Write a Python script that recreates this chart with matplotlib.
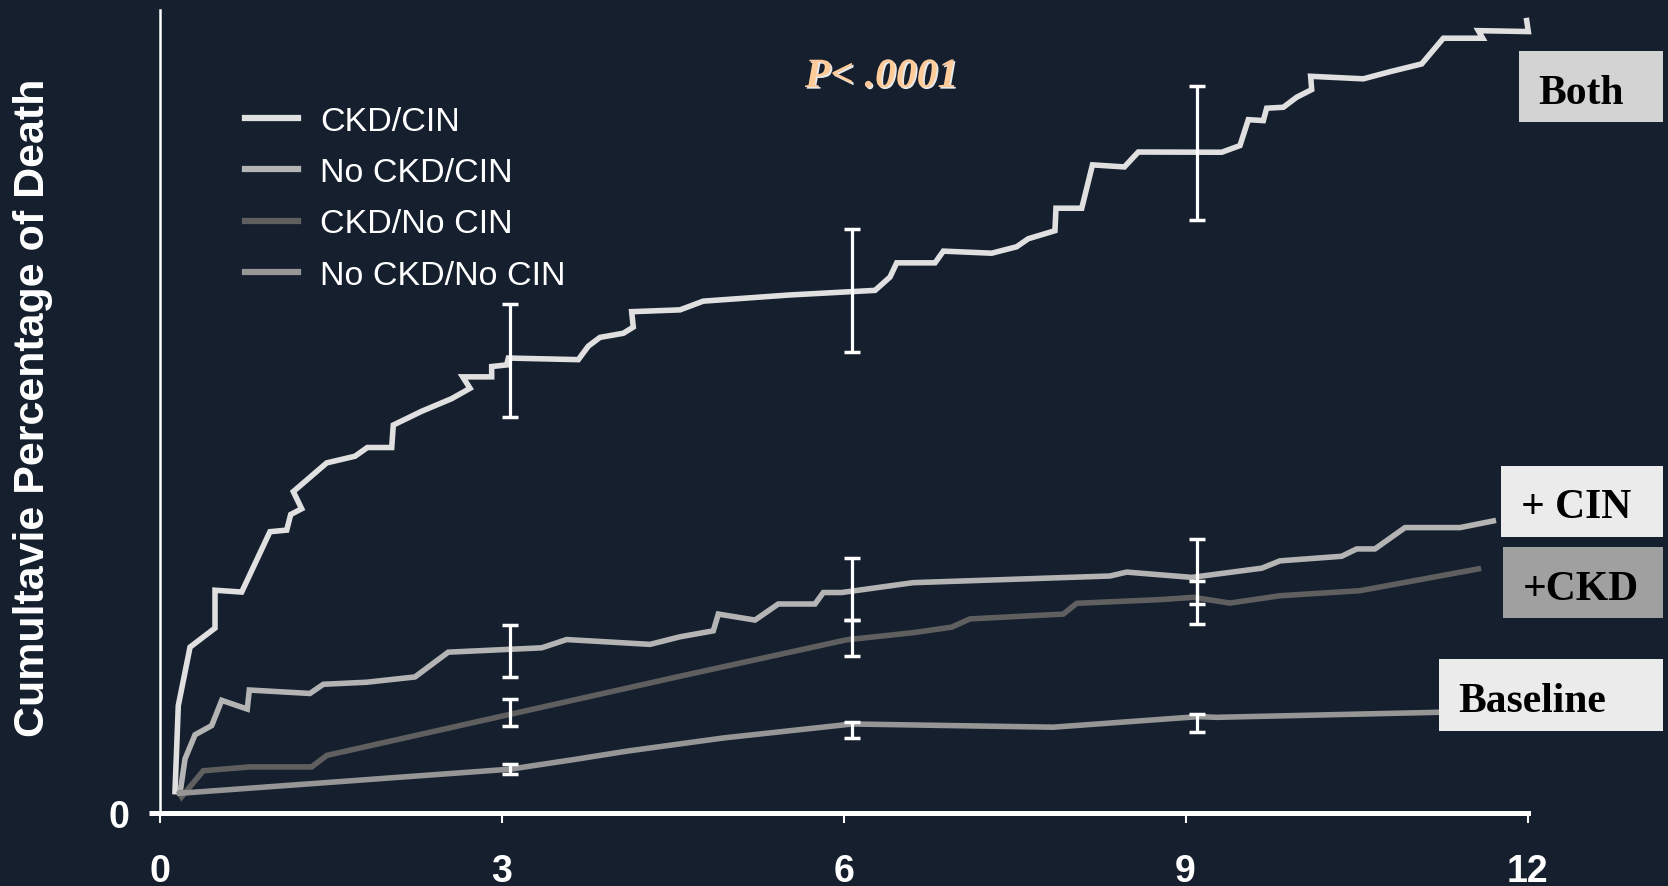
import matplotlib
matplotlib.use('Agg')
import matplotlib.pyplot as plt
import matplotlib.patheffects as pe
from matplotlib.patches import Rectangle

# months since procedure / cumulative % of death
months_ckd_cin = [0.135, 0.164, 0.267, 0.486, 0.486, 0.720, 0.968, 1.115, 1.150, 1.246,
                  1.173, 1.466, 1.714, 1.822, 2.036, 2.050, 2.299, 2.562, 2.723, 2.659,
                  2.913, 2.913, 3.045, 3.059, 3.673, 3.761, 3.863, 4.068, 4.155, 4.141,
                  4.565, 4.769, 5.530, 6.276, 6.407, 6.466, 6.802, 6.875, 7.299, 7.518,
                  7.620, 7.854, 7.863, 8.089, 8.183, 8.463, 8.585, 9.317, 9.477, 9.550,
                  9.682, 9.711, 9.857, 9.975, 10.106, 10.097, 10.559, 10.793, 11.071, 11.261,
                  11.606, 11.568, 12.006, 11.992]
pct_ckd_cin = [0.93, 4.68, 7.23, 8.06, 9.71, 9.63, 12.26, 12.33, 13.01, 13.26,
               14.01, 15.26, 15.55, 15.93, 15.93, 16.91, 17.51, 18.06, 18.51, 19.01,
               19.01, 19.46, 19.53, 19.83, 19.76, 20.35, 20.73, 20.91, 21.18, 21.85,
               21.93, 22.31, 22.58, 22.78, 23.36, 23.98, 23.98, 24.49, 24.40, 24.68,
               25.03, 25.38, 26.36, 26.36, 28.25, 28.16, 28.81, 28.80, 29.09, 30.22,
               30.18, 30.72, 30.76, 31.20, 31.53, 32.11, 32.00, 32.31, 32.65, 33.77,
               33.77, 34.10, 34.06, 34.54]

months_nockd_cin = [0.179, 0.223, 0.311, 0.457, 0.545, 0.769, 0.787, 1.319, 1.436, 1.817,
                    2.240, 2.532, 3.352, 3.571, 4.302, 4.565, 4.857, 4.901, 5.223, 5.427,
                    5.749, 5.822, 5.983, 6.611, 8.337, 8.483, 9.054, 9.668, 9.828, 10.369,
                    10.501, 10.661, 10.925, 11.407, 11.699]
pct_nockd_cin = [0.86, 2.36, 3.41, 3.81, 4.91, 4.53, 5.36, 5.21, 5.61, 5.70,
                 5.93, 7.01, 7.20, 7.56, 7.35, 7.68, 7.94, 8.67, 8.41, 9.11,
                 9.11, 9.61, 9.61, 10.04, 10.33, 10.50, 10.27, 10.67, 10.99, 11.19,
                 11.51, 11.51, 12.44, 12.44, 12.73]

months_ckd_nocin = [0.179, 0.194, 0.383, 0.793, 1.334, 1.466, 4.565, 6.027, 6.611, 6.948,
                    7.109, 7.927, 8.045, 8.775, 9.068, 9.389, 9.828, 10.530, 11.568]
pct_ckd_nocin = [0.86, 0.71, 1.84, 2.01, 2.01, 2.51, 5.96, 7.55, 7.86, 8.10,
                 8.46, 8.67, 9.14, 9.30, 9.40, 9.15, 9.47, 9.69, 10.64]

months_none = [0.179, 3.074, 3.635, 4.105, 4.945, 6.074, 7.837, 9.110, 9.274, 11.217]
pct_none = [0.86, 1.91, 2.33, 2.70, 3.27, 3.88, 3.74, 4.20, 4.17, 4.39]

# confidence intervals at 3, 6, 9 months (low / high)
err_months = [3.07, 6.07, 9.10]
ci_ckd_cin_lo = [17.28, 20.10, 25.85]
ci_ckd_cin_hi = [22.20, 25.46, 31.70]
ci_nockd_cin_lo = [5.91, 8.41, 9.11]
ci_nockd_cin_hi = [8.21, 11.10, 11.94]
ci_ckd_nocin_lo = [3.81, 6.85, 8.24]
ci_ckd_nocin_hi = [4.98, 8.41, 10.13]
ci_none_lo = [1.68, 3.26, 3.52]
ci_none_hi = [2.14, 3.95, 4.32]

labels = ['CKD/CIN', 'No CKD/CIN', 'CKD/No CIN', 'No CKD/No CIN']
colors = ['#e0e0e0', '#b4b4b4', '#5f5f5f', '#969696']
xticks = [0, 3, 6, 9, 12]

bg = '#151f2e'
W, H = 1668, 887

fig = plt.figure(figsize=(W / 100, H / 100), dpi=100, facecolor=bg)
ax = fig.add_axes([159.6 / W, 1 - 814 / H, (1527.6 - 159.6) / W, (814 - 11) / H])
ax.set_facecolor(bg)

series = [(months_ckd_cin, pct_ckd_cin), (months_nockd_cin, pct_nockd_cin),
          (months_ckd_nocin, pct_ckd_nocin), (months_none, pct_none)]
for (xs, ys), lab, c in zip(series, labels, colors):
    ax.plot(xs, ys, color=c, lw=4.0, label=lab, solid_joinstyle='miter', clip_on=False, zorder=3)

for lo, hi in [(ci_ckd_cin_lo, ci_ckd_cin_hi), (ci_nockd_cin_lo, ci_nockd_cin_hi),
               (ci_ckd_nocin_lo, ci_ckd_nocin_hi), (ci_none_lo, ci_none_hi)]:
    mid = [(a + b) / 2 for a, b in zip(lo, hi)]
    half = [(b - a) / 2 for a, b in zip(lo, hi)]
    ax.errorbar(err_months, mid, yerr=half, fmt='none', ecolor='white',
                elinewidth=2.3, capsize=5.5, capthick=2.5, zorder=5)

ax.set_xlim(0, 12)
ax.set_ylim(0, 35)

for s in ['top', 'right']:
    ax.spines[s].set_visible(False)
ax.spines['left'].set_color('white')
ax.spines['left'].set_linewidth(1.8)
ax.spines['bottom'].set_color('white')
ax.spines['bottom'].set_linewidth(3.6)

narrow = ['Liberation Sans Narrow', 'Liberation Sans', 'DejaVu Sans']
ax.set_xticks(xticks)
ax.set_xticklabels([str(t) for t in xticks], family=narrow, fontweight='bold',
                   fontsize=27, color='white')
ax.set_yticks([0])
ax.set_yticklabels(['0'], family=narrow, fontweight='bold', fontsize=27, color='white')
ax.tick_params(axis='x', colors='white', length=7, width=1.5, pad=22)
ax.tick_params(axis='y', colors='white', length=8, width=3.6, pad=14)

fig.text(33 / W, 1 - 408 / H, 'Cumultavie Percentage of Death', rotation=90,
         ha='center', va='center', color='white', fontsize=31, fontweight='bold',
         family=['Liberation Sans', 'DejaVu Sans'])

leg = ax.legend(loc='upper left', bbox_to_anchor=((231 - 159.6) / 1368, 1 - (93 - 11) / 803),
                frameon=False, handlelength=1.56, handletextpad=0.66,
                labelspacing=0.6, borderaxespad=0,
                prop={'family': ['Liberation Sans', 'DejaVu Sans'], 'size': 24.5})
for t in leg.get_texts():
    t.set_color('white')
for h in leg.get_lines():
    h.set_linewidth(4.5)

ptxt = fig.text(805 / W, 1 - 78 / H, 'P< .0001', color='#ffcc99', fontsize=30,
                fontweight='bold', fontstyle='italic', ha='left', va='center',
                family=['Liberation Serif', 'DejaVu Serif'])
ptxt.set_path_effects([pe.withSimplePatchShadow(offset=(1.2, -1.2), shadow_rgbFace='white', alpha=0.9)])

# group labels on the right
boxes = [('Both', 1519, 52, 1663, 123, '#d3d3d3', 1538),
         ('+ CIN', 1501, 467, 1663, 538, '#ebebeb', 1521),
         ('+CKD', 1503, 548, 1663, 619, '#a0a0a0', 1523),
         ('Baseline', 1439, 660, 1663, 732, '#ebebeb', 1458)]
for txt, x0, y0, x1, y1, fc, tx in boxes:
    fig.patches.append(Rectangle((x0 / W, 1 - y1 / H), (x1 - x0) / W, (y1 - y0) / H,
                                 transform=fig.transFigure, facecolor=fc, edgecolor='none', zorder=6))
    fig.text(tx / W, 1 - ((y0 + y1) / 2 + 6) / H, txt, color='black', fontsize=30,
             fontweight='bold', ha='left', va='center', zorder=7,
             family=['Liberation Serif', 'DejaVu Serif'])

fig.savefig('out.png', dpi=100, facecolor=bg)
